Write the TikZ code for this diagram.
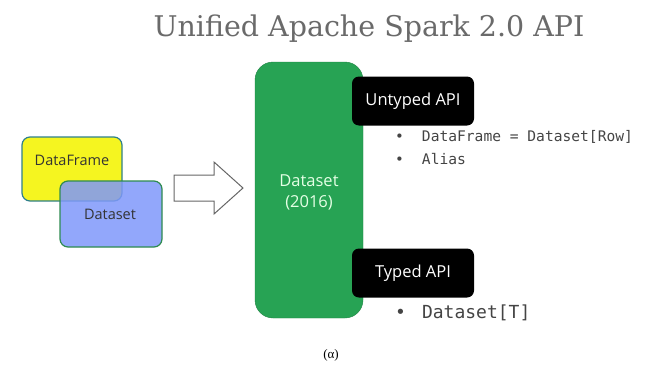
\documentclass[tikz,border=0pt]{standalone}
\usepackage{fontspec}
\setmainfont{Open Sans}
\newfontfamily\titlefont{DejaVu Serif}
\newfontfamily\codefont{DejaVu Sans Mono}
\newfontfamily\capfont{Liberation Serif}
\definecolor{dsgreen}{HTML}{27A354}
\definecolor{dfyellow}{HTML}{F5F520}
\definecolor{dsblue}{HTML}{7F98FA}
\definecolor{dfborder}{HTML}{2E7F8C}
\definecolor{dsborder}{HTML}{2E8B50}
\definecolor{titlegray}{HTML}{6A6A6A}
\definecolor{codegray}{HTML}{444444}
\tikzset{
  apibox/.style={fill=black, rounded corners=7pt, text=white, font=\fontsize{16.5}{19}\selectfont},
  bullet/.style={anchor=west, text=codegray, inner sep=0pt},
}
\begin{document}
\begin{tikzpicture}[x=1pt,y=-1pt]
\useasboundingbox (0,0) rectangle (662,367);
% title
\node[text=titlegray, font=\titlefont\fontsize{28.5}{32}\selectfont] (title) at (369,29) {Unified Apache Spark 2.0 API};
% left overlapping boxes
\draw[fill=dfyellow, draw=dfborder, line width=1.2pt, rounded corners=8pt] (22,137) rectangle (122,201);
\node[font=\fontsize{14.5}{17}\selectfont, text=black!80] (df) at (72,160) {DataFrame};
\draw[fill=dsblue, fill opacity=0.85, draw=dsborder, line width=1.2pt, rounded corners=8pt] (60,181) rectangle (162,247);
\node[font=\fontsize{14.5}{17}\selectfont, text=black!80] (ds) at (110,214) {Dataset};
% hollow arrow
\draw[draw=black!60, line width=1pt, fill=white]
  (174,175) -- (214,175) -- (214,162) -- (243,188) -- (214,214) -- (214,201) -- (174,201) -- cycle;
% big green box
\node[fill=dsgreen, draw=dsgreen!80!black, rounded corners=18pt, minimum width=108pt, minimum height=256pt, inner sep=0pt] (big) at (309,190) {};
\node[text=white!90!green, font=\fontsize{16.5}{21}\selectfont, align=center] (bigt) at (309,192) {Dataset\\(2016)};
% API boxes
\node[apibox, minimum width=122pt, minimum height=49pt, inner sep=0pt] (untyped) at (413,101) {Untyped API};
\node[apibox, minimum width=122pt, minimum height=49pt, inner sep=0pt] (typed) at (413,273) {Typed API};
% bullets
\node[bullet, font=\codefont\fontsize{14.6}{17}\selectfont] (b1) at (395,137) {\textbullet\hspace{18pt}DataFrame = Dataset[Row]};
\node[bullet, font=\codefont\fontsize{14.6}{17}\selectfont] (b2) at (395,159) {\textbullet\hspace{18pt}Alias};
\node[bullet, font=\codefont\fontsize{18}{21}\selectfont] (b3) at (395,313) {\textbullet\hspace{16pt}Dataset[T]};
% caption
\node[font=\capfont\fontsize{13}{15}\selectfont] (cap) at (331,355) {(α)};
\end{tikzpicture}
\end{document}
